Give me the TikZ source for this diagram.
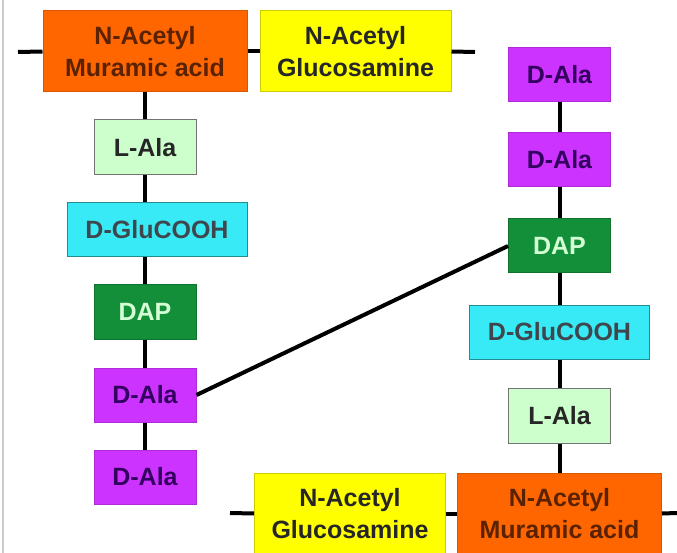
\documentclass[tikz,border=0pt]{standalone}
\usepackage{fontspec}
\setsansfont{Liberation Sans}
\usetikzlibrary{positioning}

\definecolor{murfill}{HTML}{FF6600}
\definecolor{murtext}{HTML}{5A2200}
\definecolor{glcfill}{HTML}{FFFF00}
\definecolor{laafill}{HTML}{CCFFCC}
\definecolor{glufill}{HTML}{38EAF5}
\definecolor{dapfill}{HTML}{138F3A}
\definecolor{dapText}{HTML}{D4FFD4}
\definecolor{daafill}{HTML}{CC33FF}
\definecolor{daatext}{HTML}{33005F}

\begin{document}
\begin{tikzpicture}[x=1pt, y=-1pt,
    font=\sffamily\bfseries\fontsize{25}{32}\selectfont,
    sugar/.style={draw, line width=1pt, minimum width=204pt, minimum height=81pt, inner sep=0pt, align=center},
    pep/.style={draw, line width=1pt, minimum width=102pt, minimum height=54pt, inner sep=0pt},
    muram/.style={sugar, fill=murfill, draw=murfill!85!black, text=murtext},
    glcnac/.style={sugar, fill=glcfill, draw=glcfill!80!black, text=black!85, minimum width=191pt},
    lala/.style={pep, fill=laafill, draw=black!55, text=black!85, minimum height=55pt},
    dglu/.style={pep, fill=glufill, draw=glufill!60!black, text=black!80!cyan, minimum width=180pt},
    dap/.style={pep, fill=dapfill, draw=dapfill!80!black, text=dapText},
    dala/.style={pep, fill=daafill, draw=daafill!85!black, text=daatext},
    bond/.style={draw, line width=4pt}
]
\useasboundingbox (0,0) rectangle (677,553);
\draw[black!20, line width=2pt] (3,0) -- (3,553);

% Upper strand
\node[muram] (murA) at (145,51.5) {N-Acetyl\\Muramic acid};
\node[glcnac, right=12pt of murA] (glcA) {N-Acetyl\\Glucosamine};
\coordinate (endA1) at (18,52);
\coordinate (endA2) at (475,52);

% Peptide on the upper strand
\node[lala, below=27pt of murA] (lalaA) {L-Ala};
\node[dglu, below=27pt of lalaA, xshift=12pt] (gluA) {D-GluCOOH};
\node[dap, below=27pt of gluA, xshift=-12pt] (dapA) {DAP};
\node[dala, below=28pt of dapA] (dalaA) {D-Ala};
\node[dala, below=27pt of dalaA] (dalaB) {D-Ala};

% Lower strand
\node[muram] (murB) at (559.5,513.5) {N-Acetyl\\Muramic acid};
\node[glcnac, left=11pt of murB] (glcB) {N-Acetyl\\Glucosamine};
\coordinate (endB1) at (230,513);
\coordinate (endB2) at (677,513);

% Peptide on the lower strand
\node[lala, above=29pt of murB] (lalaB) {L-Ala};
\node[dglu, above=28pt of lalaB] (gluB) {D-GluCOOH};
\node[dap, above=31pt of gluB] (dapB) {DAP};
\node[dala, above=31pt of dapB] (dalaC) {D-Ala};
\node[dala, above=30pt of dalaC] (dalaD) {D-Ala};

% Glycan bonds
\draw[bond] (endA1) -- (murA.west);
\draw[bond] (murA.east) -- (glcA.west);
\draw[bond] (glcA.east) -- (endA2);
\draw[bond] (endB1) -- (glcB.west);
\draw[bond] (glcB.east) -- (murB.west);
\draw[bond] (murB.east) -- (endB2);

% Peptide bonds
\draw[bond] (murA) -- (lalaA);
\draw[bond] (lalaA) -- (lalaA |- gluA.north);
\draw[bond] (dapA |- gluA.south) -- (dapA);
\draw[bond] (dapA) -- (dalaA);
\draw[bond] (dalaA) -- (dalaB);
\draw[bond] (murB) -- (lalaB);
\draw[bond] (lalaB) -- (gluB);
\draw[bond] (gluB) -- (dapB);
\draw[bond] (dapB) -- (dalaC);
\draw[bond] (dalaC) -- (dalaD);

% Cross-link
\draw[bond] (dalaA.east) -- (dapB.west);

\end{tikzpicture}
\end{document}
